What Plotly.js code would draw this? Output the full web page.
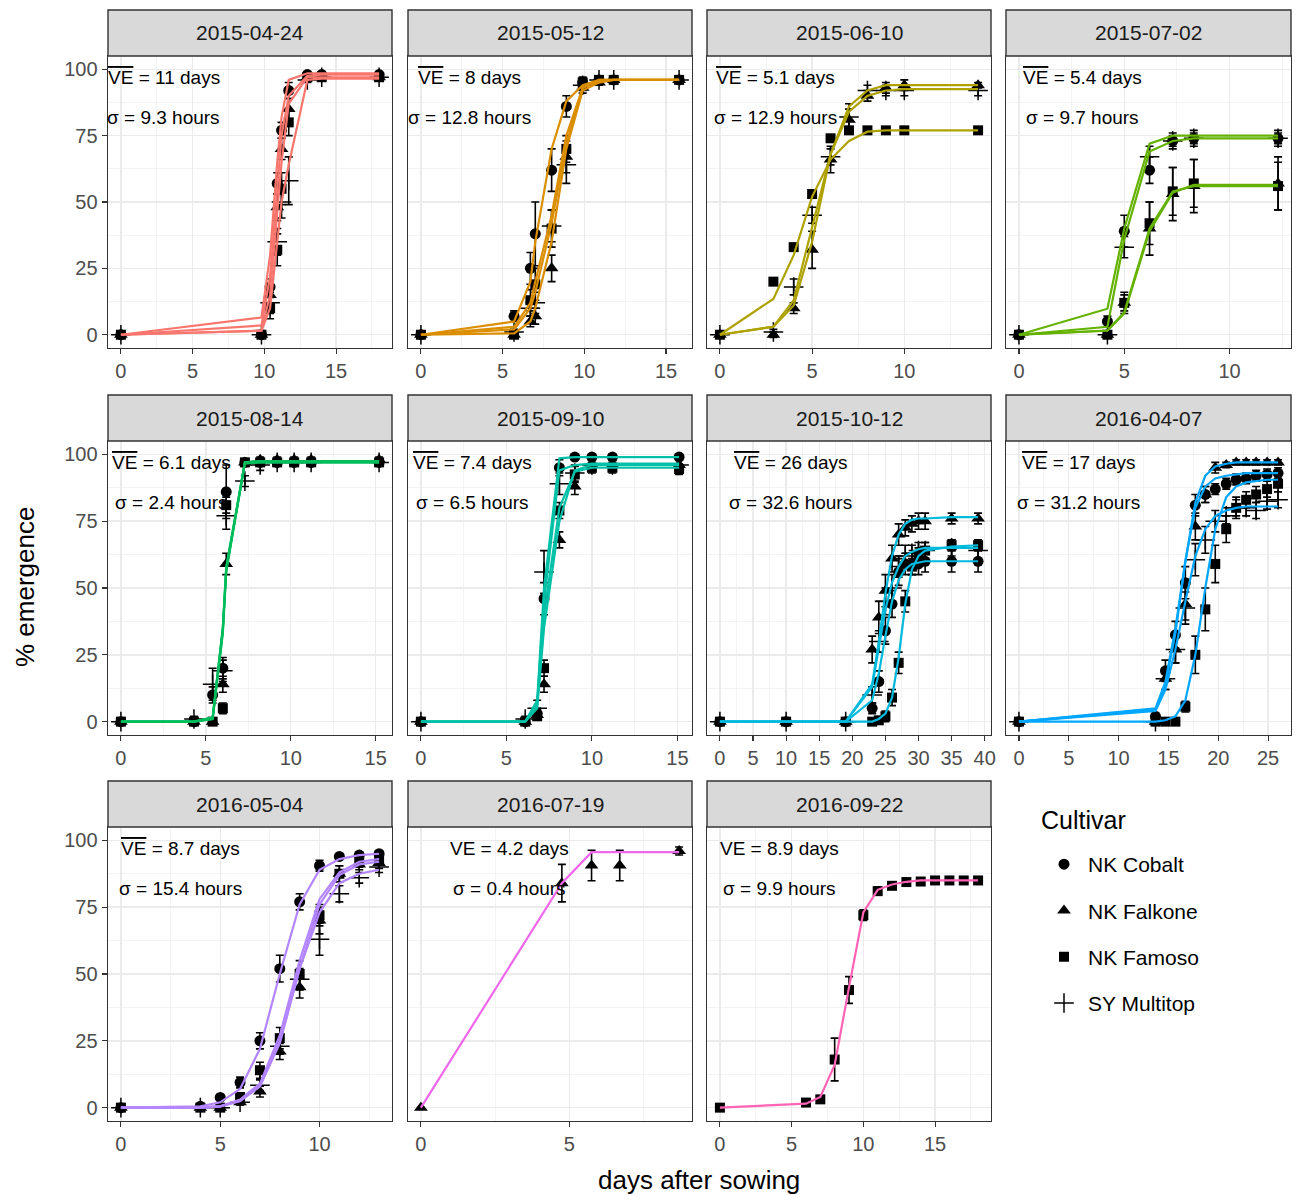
<!DOCTYPE html>
<html><head><meta charset="utf-8">
<script src="https://cdn.plot.ly/plotly-3.0.1.min.js"></script>
<style>html,body{margin:0;padding:0;background:#fff}</style>
</head><body><div id="chart" style="width:1299px;height:1195px"></div>
<script>
// ---------------- DATA ----------------
const cultivars = ['NK Cobalt', 'NK Falkone', 'NK Famoso', 'SY Multitop'];
const sowingDates = ['2015-04-24','2015-05-12','2015-06-10','2015-07-02','2015-08-14','2015-09-10','2015-10-12','2016-04-07','2016-05-04','2016-07-19','2016-09-22'];
const veDays = ['11', '8', '5.1', '5.4', '6.1', '7.4', '26', '17', '8.7', '4.2', '8.9'];
const sigmaHours = ['9.3', '12.8', '12.9', '9.7', '2.4', '6.5', '32.6', '31.2', '15.4', '0.4', '9.9'];
const veOverline = [true, true, true, true, true, true, true, true, true, false, false];
const yTicks = [0, 25, 50, 75, 100];

// panel 2015-04-24
const p01_x = [0, 9.8, 10.4, 10.9, 11.2, 11.7, 13, 14, 18];
const p01_mean = [[0,0,18,57,77,92,98,98,98],[0,0,15,48,70,85,97,98,97],[0,0,10,32,55,80,97,97,97],[0,0,12,35,50,58,96,97,97]];
const p01_err  = [[0,0,3,4,3,3,1,1,1],[0,0,3,5,4,4,1,1,1],[0,0,4,6,6,5,1,1,1],[0,0,4,5,6,9,1,1,1]];
const p01_fit  = [[0,6.5,30,65,82,96,98.5,98.5,98.5],[0,3.5,22,55,75,90,97.5,98,98],[0,1.5,15,45,65,87,97,97,97],[0,1.5,10,35,50,64,96,96.5,96.5]];
// panel 2015-05-12
const p02_x = [0, 5.7, 6.7, 7.0, 8.0, 8.9, 9.9, 10.9, 11.8, 15.8];
const p02_mean = [[0,7,25,38,62,86,95,96,96,96],[0,0,5,7,25,67,93,95,96,96],[0,0,13,19,40,70,95,96,96,96],[0,1,10,12,41,64,94,96,96,96]];
const p02_err  = [[0,2,6,12,8,4,2,1,1,1],[0,1,2,3,5,6,2,1,1,1],[0,1,4,6,7,5,2,1,1,1],[0,1,3,4,6,7,2,1,1,1]];
const p02_fit  = [[0,5,20,35,70,88,94,96,96,96],[0,0.5,5,10,35,70,92,95,96,96],[0,3,12,20,45,75,93,96,96,96],[0,2,10,16,42,72,93,95.5,96,96]];
// panel 2015-06-10
const p03_x = [0, 2.9, 4, 5, 6, 7, 8, 9, 10, 14];
const p03_mean = [null,[0,0,10,32,66,81,90,93,94,94],[0,20,33,53,74,77,77,77,77,77],[0,1,18,45,67,82,92,92,92,92]];
const p03_err  = [null,[0,1,2,7,5,4,2,2,2,1],[0,1,1,1,1,1,1,1,1,1],[0,1,3,3,3,5,2,2,2,2]];
const p03_fit  = [null,[0,3,11,35,68,86,92,94,94,94],[0,13.5,30,52,66,73,76.5,77,77,77],[0,3,13,40,68,84,90,92,92.5,92.5]];
// panel 2015-07-02
const p04_x = [0, 4.2, 5, 6.2, 7.3, 8.3, 12.3];
const p04_mean = [[0,5,39,62,73,74,74],[0,0,12,40,53,56,57],[0,0,12,42,54,57,56],[0,0,33,67,73,74,74]];
const p04_err  = [[0,2,6,5,3,3,3],[0,1,3,10,10,10,10],[0,1,4,8,9,9,9],[0,1,4,4,2,2,2]];
const p04_fit  = [[0,9.8,40,72,75,75,75],[0,1.5,8,39,53.5,56.5,56.5],[0,1.6,8.5,40,54,56,56],[0,3,36,69,73,74,74]];
// panel 2015-08-14
const p05_x = [0, 4.3, 5.4, 6.0, 6.2, 7.3, 8.2, 9.2, 10.2, 11.2, 15.2];
const p05_mean = [[0,0,10,20,86,97,97,97,97,97,97],[0,0,0,14,59,97,98,98,98,98,98],[0,0,0,5,81,97,97,97,97,97,97],[0,1,14,19,77,90,96,97,97,97,97]];
const p05_err  = [[0,0,3,4,10,1,1,1,1,1,1],[0,1,0,3,4,1,1,1,1,1,1],[0,0,0,2,3,1,1,1,1,1,1],[0,1,6,4,5,2,2,1,1,1,1]];
const p05_fit  = [[0,0,1.5,35,58,97,97.5,97.5,97.5,97.5,97.5],[0,0,1,33,56,97,97.5,97.5,97.5,97.5,97.5],[0,0,1,34,57,97,97,97,97,97,97],[0,0,1.5,35,57,96.5,97,97,97,97,97]];
// panel 2015-09-10
const p06_x = [0, 6.1, 6.8, 7.2, 8.1, 9.0, 10.0, 11.2, 15.1];
const p06_mean = [[0,0,3,46,95,99,99,99,99],[0,0,2.5,14,68,88,96,96,96],[0,0,2,20,79,92.5,95,95,94.5],[0,1,5,56,89,93,96,96,96]];
const p06_err  = [[0,1,2,6,3,1,1,1,1],[0,1,2,3,3,3,2,2,2],[0,1,1,3,3,3,2,2,2],[0,1,3,8,4,3,2,2,2]];
const p06_fit  = [[0,0,8,50,98.5,99,99,99,99],[0,0,5,35,75,94,96,96,96],[0,0,6,40,80,93.5,95,95,95],[0,0,7,45,94,96,96.5,96.5,96.5]];
// panel 2015-10-12
const p07_x = [0, 10, 19, 23, 24, 25, 26, 27, 28, 29, 30, 31, 35, 39];
const p07_mean = [[0,0,0,5,15,34,44,56,59,59,59,60,60,60],[0,0,0,27,39,49,61,70,72.5,74,75,75,76,76],[0,0,0,0,0.5,2,9,22,45,58,62,64,66,66],[0,0,0,10,30,45,50,58,62,63,64,64,65,64]];
const p07_err  = [[0,0,0,2,4,5,5,5,4,4,4,4,4,4],[0,0,0,5,6,6,5,4,3,3,3,3,2,2],[0,0,0,0,1,2,3,4,4,3,3,3,2,2],[0,0,0,3,4,5,5,4,4,3,3,3,3,3]];
const p07_fit  = [[0,0,0,8,18,32,45,53,57,59,59.5,60,60,60],[0,0,0,14,30,48,62,70,74,75.5,76,76,76.5,76.5],[0,0,0,0,1,3,9,24,44,57,62,64,65.5,66],[0,0,0,13,28,42,52,58,62,63.5,64.5,65,65,65]];
// panel 2016-04-07
const p08_x = [0, 13.7, 14.7, 15.7, 16.7, 17.7, 18.7, 19.7, 20.8, 21.8, 22.8, 23.8, 24.9, 26];
const p08_mean = [[0,2,19,32.5,52,81,85,87,89,90.6,91,92,92.5,93],[0,0,16,27,44,73,85,95,96,97,97,97,97,97],[0,0,0,0,5.6,25,42,59,72,80,83,85,87,89],[0,0,16,27,42.5,60.6,68,75,77,80,80,79,82.5,83]];
const p08_err  = [[0,1,4,5,6,4,3,2,2,2,2,2,2,2],[0,1,4,5,6,5,3,2,1,1,1,1,1,1],[0,0,0,1,2,7,8,7,5,4,3,3,3,3],[0,1,4,5,6,6,5,4,3,3,3,3,3,3]];
const p08_fit  = [[0,5,15,35,60,80,88,91,92,92.5,93,93,93,93],[0,4.5,14,33,60,82,92,95.5,96.5,97,97,97,97,97],[0,0,0.5,2,8,25,50,72,84,88,89.5,90,90.5,90.5],[0,4,12,27,45,62,72,77,79,80,80.5,80.5,80.5,80.5]];
// panel 2016-05-04
const p09_x = [0, 4, 5, 6, 7, 8, 9, 10, 11, 12, 13];
const p09_mean = [[0,0.5,3.8,9.4,25,52,77,90.5,94,94.5,95],[0,0,0,2,6,21,45,70,87.5,91,91.5],[0,0,0,4,14,26,50,72,87.5,92,93],[0,0,0,2,8.4,23,48,63,80,86,90]];
const p09_err  = [[0,0.5,1,2,3,5,3,2,1,1,1],[0,0,0,1,2,3,4,5,3,2,2],[0,0,0.5,1,3,4,5,4,3,2,2],[0,0,0,1,2,3,4,6,3,2,2]];
const p09_fit  = [[0,0.5,2,7,22,50,76,89,93,94.5,95],[0,0,0.5,2.5,8,25,52,76,87,91,92],[0,0,0.5,3,9,27,55,78,88,92,93],[0,0,0.5,2.5,8,24,52,73,84,87.5,89]];
// panel 2016-07-19
const p10_x = [0, 4.75, 5.75, 6.7, 8.7];
const p10_mean = [null,[0,84,90.6,90.6,96],null,null];
const p10_err  = [null,[0,7,5.7,5.7,1.5],null,null];
const p10_fit  = [null,[0,84,95.6,95.6,95.6],null,null];
// panel 2016-09-22
const p11_x = [0, 6, 7, 8, 9, 10, 11, 12, 13, 14, 15, 16, 17, 18];
const p11_mean = [null,null,[0,1.9,3.1,18,44,72,81,83,84.4,84.6,85,85,85,85],null];
const p11_err  = [null,null,[0,0.5,1,8,5,2,1.5,1,1,1,1,1,1,1],null];
const p11_fit  = [null,null,[0,1.5,4,16,45,73,81.5,83.5,84.5,85,85,85,85,85],null];

// ---------------- STYLE / LAYOUT ----------------
const panelTable = [
  [p01_x,p01_mean,p01_err,p01_fit],[p02_x,p02_mean,p02_err,p02_fit],[p03_x,p03_mean,p03_err,p03_fit],
  [p04_x,p04_mean,p04_err,p04_fit],[p05_x,p05_mean,p05_err,p05_fit],[p06_x,p06_mean,p06_err,p06_fit],
  [p07_x,p07_mean,p07_err,p07_fit],[p08_x,p08_mean,p08_err,p08_fit],[p09_x,p09_mean,p09_err,p09_fit],
  [p10_x,p10_mean,p10_err,p10_fit],[p11_x,p11_mean,p11_err,p11_fit]
];
const lineColors = ['#F8766D','#DB8E00','#AEA200','#64B200','#00BD5C','#00C1A7','#00BADE','#00A6FF','#B385FF','#EF67EB','#FF63B6'];
const symbols = ['circle','triangle-up','square','cross-thin-open'];
const symSizes = [11, 12, 10, 14];
const labelX = [3, 3, 3, 3, 3, 3, 10.7, 6, 3, 3, 4.15];

const W = 1299, H = 1195;
const cols = [[108,392],[408,692],[707,991],[1006,1291]];
const rows = [[56,348],[441,735],[827,1121]];
const stripH = 46;
const FONT = 'Liberation Sans, Arial, sans-serif';

const traces = [];
const layout = {
  width: W, height: H, margin: {l:0, r:0, t:0, b:0},
  paper_bgcolor: '#fff', plot_bgcolor: '#fff',
  font: {family: FONT, color: '#000'},
  showlegend: true, hovermode: false,
  legend: {x: 1040/W, y: (H-844)/H, xanchor: 'left', yanchor: 'top',
    font: {size: 21, color: '#000'}, traceorder: 'grouped', tracegroupgap: 16,
    bgcolor: 'rgba(0,0,0,0)', itemwidth: 38},
  shapes: [], annotations: []
};

panelTable.forEach((P, i) => {
  const [px, mean, err, fit] = P;
  const ax = i === 0 ? '' : String(i + 1);
  const col = i % 4, row = Math.floor(i / 4);
  const [c0, c1] = cols[col], [r0, r1] = rows[row];
  const xmin = Math.min(...px), xmax = Math.max(...px), span = xmax - xmin;

  mean.forEach((m, c) => {
    if (!m) return;
    traces.push({
      type: 'scatter', mode: 'markers', x: px, y: m,
      xaxis: 'x' + ax, yaxis: 'y' + ax,
      error_y: {type: 'data', array: err[c], visible: true, color: '#000', thickness: 1.6, width: 4},
      marker: {symbol: symbols[c], size: symSizes[c], color: '#000',
        line: {color: '#000', width: c === 3 ? 1.5 : 0}},
      name: cultivars[c], legendgroup: cultivars[c], showlegend: i === 0
    });
  });
  fit.forEach((f, c) => {
    if (!f) return;
    traces.push({
      type: 'scatter', mode: 'lines', x: px, y: f,
      xaxis: 'x' + ax, yaxis: 'y' + ax,
      line: {color: lineColors[i], width: 2.2},
      name: cultivars[c], legendgroup: cultivars[c], showlegend: false
    });
  });

  layout['xaxis' + ax] = {
    domain: [c0/W, c1/W], anchor: 'y' + ax,
    range: [xmin - 0.05*span, xmax + 0.05*span],
    tick0: 0, dtick: 5, ticks: 'outside', ticklen: 5, tickwidth: 1.1, tickcolor: '#333',
    tickfont: {size: 20, color: '#4D4D4D', family: FONT},
    showgrid: true, gridcolor: '#EBEBEB', gridwidth: 1.4,
    minor: {tick0: 0, dtick: 2.5, showgrid: true, gridcolor: '#F0F0F0', gridwidth: 0.8},
    showline: true, mirror: true, linecolor: '#333', linewidth: 1.4, zeroline: false
  };
  layout['yaxis' + ax] = {
    domain: [(H - r1)/H, (H - r0)/H], anchor: 'x' + ax,
    range: [-5, 105], tickvals: yTicks,
    ticks: col === 0 ? 'outside' : '', ticklen: 5, tickwidth: 1.1, tickcolor: '#333',
    showticklabels: col === 0,
    tickfont: {size: 20, color: '#4D4D4D', family: FONT},
    showgrid: true, gridcolor: '#EBEBEB', gridwidth: 1.4,
    minor: {tick0: 0, dtick: 12.5, showgrid: true, gridcolor: '#F0F0F0', gridwidth: 0.8},
    showline: true, mirror: true, linecolor: '#333', linewidth: 1.4, zeroline: false
  };

  // strip
  layout.shapes.push({type: 'rect', xref: 'paper', yref: 'paper',
    x0: c0/W, x1: c1/W, y0: (H - r0)/H, y1: (H - r0 + stripH)/H,
    fillcolor: '#D9D9D9', line: {color: '#333', width: 1.4}});
  layout.annotations.push({xref: 'paper', yref: 'paper', x: (c0 + c1)/2/W, y: (H - r0 + stripH/2)/H,
    text: sowingDates[i], showarrow: false, xanchor: 'center', yanchor: 'middle',
    font: {size: 21, color: '#1A1A1A', family: FONT}});

  // VE and sigma labels
  const veText = (veOverline[i] ? '<span style="text-decoration:overline">VE</span>' : 'VE') + ' = ' + veDays[i] + ' days';
  layout.annotations.push({xref: 'x' + ax, yref: 'y' + ax, x: labelX[i], y: 97, text: veText,
    showarrow: false, xanchor: 'center', yanchor: 'middle', font: {size: 19, color: '#000', family: FONT}});
  layout.annotations.push({xref: 'x' + ax, yref: 'y' + ax, x: labelX[i], y: 82, text: 'σ = ' + sigmaHours[i] + ' hours',
    showarrow: false, xanchor: 'center', yanchor: 'middle', font: {size: 19, color: '#000', family: FONT}});
});

// legend title and axis titles
layout.annotations.push({xref: 'paper', yref: 'paper', x: 1039/W, y: (H - 820)/H, text: 'Cultivar',
  showarrow: false, xanchor: 'left', yanchor: 'middle', font: {size: 25, color: '#000', family: FONT}});
layout.annotations.push({xref: 'paper', yref: 'paper', x: 699/W, y: (H - 1180)/H, text: 'days after sowing',
  showarrow: false, xanchor: 'center', yanchor: 'middle', font: {size: 26, color: '#000', family: FONT}});
layout.annotations.push({xref: 'paper', yref: 'paper', x: 25/W, y: (H - 587)/H, text: '% emergence', textangle: -90,
  showarrow: false, xanchor: 'center', yanchor: 'middle', font: {size: 26, color: '#000', family: FONT}});

Plotly.newPlot('chart', traces, layout, {displayModeBar: false, staticPlot: true});
</script></body></html>
